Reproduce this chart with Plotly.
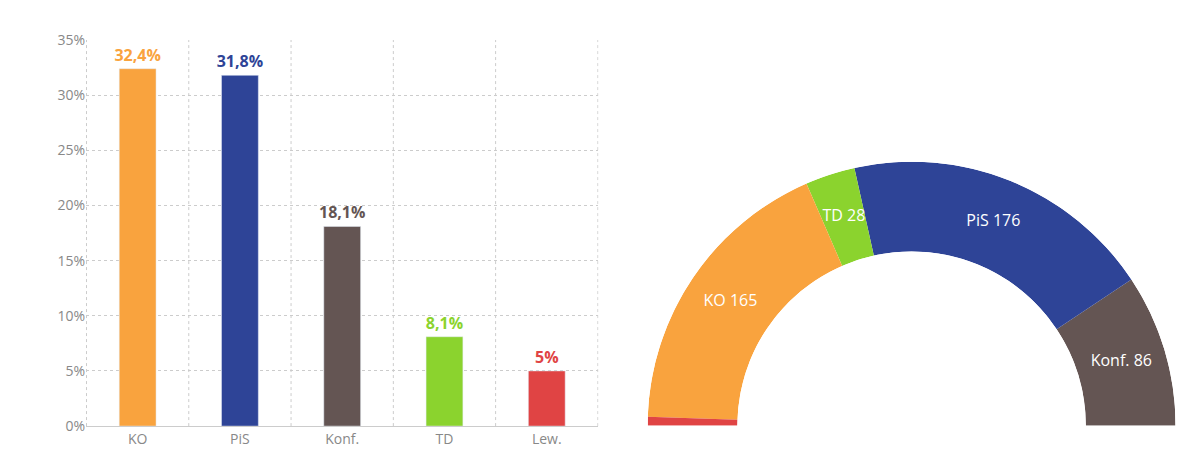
import plotly.graph_objects as go

partie = ['KO', 'PiS', 'Konf.', 'TD', 'Lew.']
wyniki = [32.4, 31.8, 18.1, 8.1, 5.0]
kolory = ['#F9A33E', '#2E4497', '#645553', '#8BD32E', '#E04444']

# mandaty, od prawej strony półkola
mandaty_partie = ['Konf.', 'PiS', 'TD', 'KO', 'Lew.']
mandaty = [86, 176, 28, 165, 5]
mandaty_kolory = ['#645553', '#2E4497', '#8BD32E', '#F9A33E', '#E04444']
mandaty_etykiety = ['Konf. 86', 'PiS 176', 'TD 28', 'KO 165', '']

fig = go.Figure()

fig.add_trace(go.Bar(
    x=partie, y=wyniki, marker_color=kolory, width=0.36,
    text=[('%g' % w).replace('.', ',') + '%' for w in wyniki],
    textposition='outside', cliponaxis=False, constraintext='none',
    textfont={'color': kolory, 'size': 16, 'family': 'Open Sans', 'weight': 'bold'},
    hoverinfo='skip'
))

suma = sum(mandaty)
srodki = []
szer = []
start = 0
for m in mandaty:
    w = m / suma * 180
    srodki.append(start + w / 2)
    szer.append(w)
    start += w

fig.add_trace(go.Barpolar(
    r=[1] * len(mandaty), theta=srodki, width=szer,
    marker={'color': mandaty_kolory, 'line': {'width': 0}},
    base=0, hoverinfo='skip'
))
fig.add_trace(go.Scatterpolar(
    r=[0.5] * len(mandaty), theta=srodki, mode='text', text=mandaty_etykiety,
    textfont={'color': 'white', 'size': 16, 'family': 'Open Sans'}, hoverinfo='skip'
))

ksztalty = []
for i in range(len(partie) + 1):
    ksztalty.append({'type': 'line', 'xref': 'x', 'yref': 'paper', 'x0': i - 0.5, 'x1': i - 0.5,
                     'y0': 0.073, 'y1': 0.929, 'line': {'color': '#cccccc', 'width': 1, 'dash': 'dot'}})

fig.update_layout(
    width=1200, height=451,
    margin={'l': 0, 'r': 0, 't': 0, 'b': 0, 'autoexpand': False},
    paper_bgcolor='white', plot_bgcolor='white',
    showlegend=False, separators=', ',
    font={'family': 'Open Sans', 'color': '#888888', 'size': 14},
    xaxis={'domain': [0.065, 0.492], 'showgrid': False, 'ticks': '', 'showline': True,
           'automargin': False, 'linecolor': '#cccccc', 'tickfont': {'color': '#888888', 'size': 14}},
    yaxis={'domain': [0.073, 0.929], 'range': [0, 35], 'dtick': 5, 'ticksuffix': '%',
           'automargin': False, 'gridcolor': '#cccccc', 'griddash': 'dot', 'zeroline': False,
           'tickfont': {'color': '#888888', 'size': 14}},
    shapes=ksztalty,
    polar={'domain': {'x': [0.533, 0.973], 'y': [0.073, 0.66]},
           'sector': [0, 180], 'hole': 0.66, 'bgcolor': 'white',
           'radialaxis': {'visible': False, 'range': [0, 1]},
           'angularaxis': {'visible': False, 'direction': 'counterclockwise', 'rotation': 0}}
)

fig.write_html("out.html")
